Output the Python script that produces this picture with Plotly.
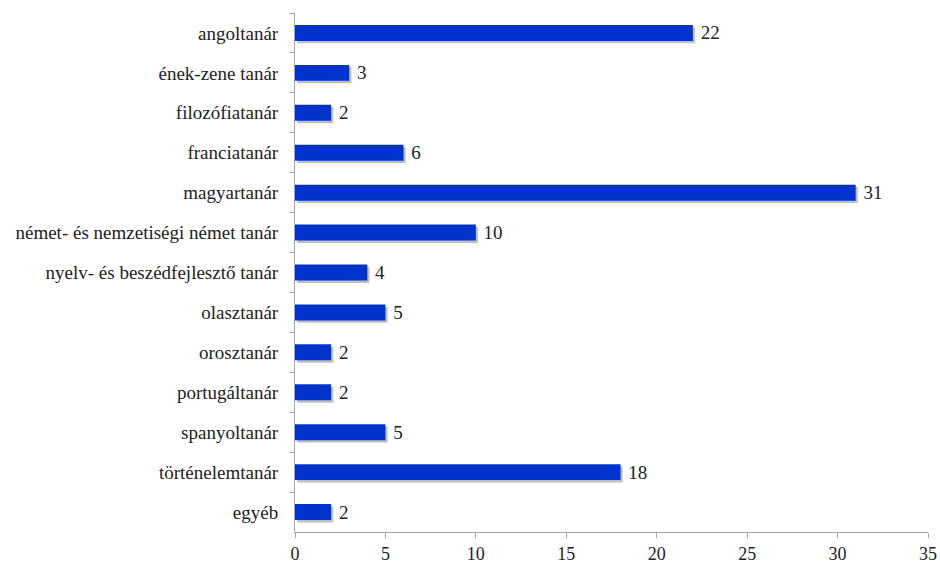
import plotly.graph_objects as go

categories = [
    "angoltanár", "ének-zene tanár", "filozófiatanár", "franciatanár",
    "magyartanár", "német- és nemzetiségi német tanár",
    "nyelv- és beszédfejlesztő tanár", "olasztanár", "orosztanár",
    "portugáltanár", "spanyoltanár", "történelemtanár", "egyéb",
]
values = [22, 3, 2, 6, 31, 10, 4, 5, 2, 2, 5, 18, 2]
x_ticks = [0, 5, 10, 15, 20, 25, 30, 35]

FONT = "Liberation Serif"
AXIS_GREY = "#a6a6a6"
TEXT = "#222222"

fig = go.Figure()

# soft drop shadow under each bar
fig.add_trace(go.Bar(
    y=categories, x=values, orientation="h",
    base=0.12, width=0.4, offset=-0.14,
    marker=dict(color="rgba(0,0,0,0.25)", line=dict(width=0)),
    hoverinfo="skip", showlegend=False,
))

fig.add_trace(go.Bar(
    y=categories, x=values, orientation="h",
    width=0.4, offset=-0.2,
    marker=dict(color="#0033cc", line=dict(width=0)),
    text=[f" {v}" for v in values], textposition="outside",
    constraintext="none", cliponaxis=False,
    textfont=dict(family=FONT, size=19, color=TEXT),
    showlegend=False,
))

fig.update_layout(
    width=940, height=563,
    margin=dict(l=295, r=12, t=13, b=31),
    paper_bgcolor="white", plot_bgcolor="white",
    barmode="overlay",
    font=dict(family=FONT, size=19, color=TEXT),
    xaxis=dict(
        range=[0, 35], tickvals=x_ticks, ticktext=[str(t) for t in x_ticks],
        showgrid=False, zeroline=False, automargin=False,
        showline=True, linecolor=AXIS_GREY, linewidth=1,
        ticks="outside", ticklen=5, tickcolor=AXIS_GREY,
        tickfont=dict(family=FONT, size=18, color=TEXT),
    ),
    yaxis=dict(
        autorange="reversed", type="category",
        showgrid=False, zeroline=False, automargin=False,
        showline=True, linecolor=AXIS_GREY, linewidth=1,
        ticks="outside", ticklen=5, tickcolor=AXIS_GREY,
        tickson="boundaries", ticklabelstandoff=12,
        tickfont=dict(family=FONT, size=19, color=TEXT),
    ),
)

fig.write_html("out.html")
